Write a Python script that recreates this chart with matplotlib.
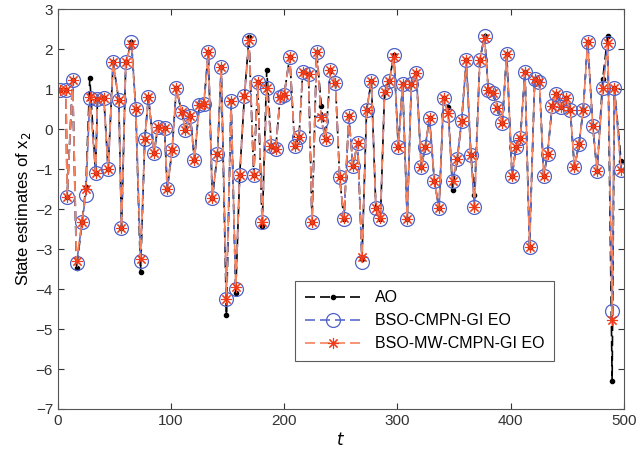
import matplotlib
matplotlib.use("Agg")
import matplotlib.pyplot as plt

plt.rcParams['font.family'] = ['Liberation Sans', 'DejaVu Sans']

# time instants of the plotted samples
t = [1.8, 7.1, 8.2, 13.0, 16.5, 21.4, 24.7, 28.2, 33.3, 35.0,
     40.6, 44.4, 48.8, 53.8, 56.2, 60.0, 65.0, 68.8, 73.0, 76.8,
     80.0, 85.0, 88.3, 94.2, 96.6, 100.9, 104.6, 109.4, 112.7, 117.0,
     120.6, 124.9, 128.9, 132.9, 136.4, 141.0, 144.3, 148.9, 153.0, 157.1,
     160.6, 164.8, 168.8, 173.0, 176.5, 180.5, 184.5, 188.6, 192.4, 196.4,
     199.9, 204.8, 209.2, 213.0, 216.3, 221.4, 224.5, 228.6, 232.7, 236.5,
     240.8, 245.2, 248.9, 252.7, 257.0, 260.6, 264.8, 268.6, 272.7, 276.9,
     280.9, 284.9, 288.6, 292.8, 296.8, 300.7, 304.5, 308.6, 312.2, 316.6,
     321.0, 324.5, 328.3, 332.5, 336.7, 340.7, 344.8, 348.6, 352.8, 356.6,
     360.8, 364.8, 368.0, 372.7, 376.9, 380.2, 384.5, 388.3, 392.5, 396.5,
     401.2, 404.7, 408.5, 412.6, 416.6, 421.2, 425.4, 429.1, 432.5, 436.6,
     440.4, 444.6, 448.6, 452.6, 456.3, 460.3, 464.0, 468.0, 472.5, 476.3,
     481.3, 485.7, 489.6, 491.6, 497.5]

# actual output AO
ao = [0.98, 0.98, -1.69, 1.22, -3.48, -2.32, -1.45, 1.28, -1.10, 0.76,
      0.78, -1.00, 1.67, 0.72, -2.48, 1.67, 2.18, 0.50, -3.58, -0.24,
      0.80, -0.59, 0.05, 0.02, -1.50, -0.53, 1.02, 0.42, -0.02, 0.33,
      -0.77, 0.61, 0.63, 1.93, -1.73, -0.62, 1.55, -4.65, 0.71, -4.10,
      -1.14, 0.83, 2.30, -1.16, 1.18, -2.42, 1.48, -0.43, -0.49, 0.81,
      0.86, 1.81, -0.43, -0.20, 1.44, 1.39, -2.32, 1.94, 0.58, -0.25,
      1.47, 1.15, -1.21, -2.26, 0.33, -0.92, -0.34, -3.25, 0.48, 1.20,
      -1.98, -2.25, 0.94, 1.21, 1.86, -0.45, 1.13, -2.24, 1.13, 1.41,
      -0.96, -0.44, 0.28, -1.29, -1.98, 0.78, 0.56, -1.52, -0.74, 0.20,
      1.73, -0.65, -1.65, 1.73, 2.33, 0.99, 0.91, 0.53, 0.16, 1.88,
      -1.18, -0.44, -0.22, 1.44, -2.94, 1.25, 1.19, -1.18, -0.63, 0.58,
      0.88, 0.56, 0.78, 0.47, -0.96, -0.38, 0.47, 2.19, 0.07, -1.06,
      1.25, 2.34, -6.30, 1.03, -0.80]

# BSO-CMPN-GI estimated output
eo_cmpn = [0.98, 0.98, -1.69, 1.22, -3.36, -2.32, -1.64, 0.78, -1.10, 0.76,
           0.78, -1.00, 1.67, 0.72, -2.48, 1.67, 2.18, 0.50, -3.29, -0.24,
           0.80, -0.59, 0.05, 0.02, -1.50, -0.53, 1.02, 0.42, -0.02, 0.33,
           -0.77, 0.61, 0.63, 1.93, -1.73, -0.62, 1.55, -4.25, 0.71, -4.00,
           -1.14, 0.83, 2.23, -1.16, 1.18, -2.32, 1.02, -0.43, -0.49, 0.81,
           0.86, 1.81, -0.43, -0.20, 1.44, 1.39, -2.32, 1.94, 0.21, -0.25,
           1.47, 1.15, -1.21, -2.26, 0.33, -0.92, -0.34, -3.32, 0.48, 1.20,
           -1.98, -2.25, 0.94, 1.21, 1.86, -0.45, 1.13, -2.24, 1.13, 1.41,
           -0.96, -0.44, 0.28, -1.29, -1.98, 0.78, 0.35, -1.31, -0.74, 0.20,
           1.73, -0.65, -1.95, 1.73, 2.33, 0.99, 0.91, 0.53, 0.16, 1.88,
           -1.18, -0.44, -0.22, 1.44, -2.94, 1.25, 1.19, -1.18, -0.63, 0.58,
           0.88, 0.56, 0.78, 0.47, -0.96, -0.38, 0.47, 2.19, 0.07, -1.06,
           1.03, 2.15, -4.56, 1.03, -1.03]

# BSO-MW-CMPN-GI estimated output
eo_mw = [0.98, 0.98, -1.69, 1.22, -3.30, -2.32, -1.50, 0.80, -1.10, 0.76,
         0.78, -1.00, 1.67, 0.72, -2.48, 1.67, 2.12, 0.50, -3.25, -0.24,
         0.80, -0.59, 0.05, 0.02, -1.50, -0.53, 1.02, 0.42, -0.02, 0.33,
         -0.77, 0.61, 0.63, 1.93, -1.73, -0.62, 1.55, -4.25, 0.71, -3.95,
         -1.14, 0.83, 2.23, -1.16, 1.18, -2.32, 1.02, -0.43, -0.49, 0.81,
         0.86, 1.81, -0.43, -0.20, 1.44, 1.39, -2.32, 1.94, 0.30, -0.25,
         1.47, 1.15, -1.21, -2.22, 0.33, -0.92, -0.34, -3.20, 0.48, 1.20,
         -1.98, -2.22, 0.94, 1.21, 1.80, -0.45, 1.13, -2.24, 1.13, 1.41,
         -0.96, -0.44, 0.28, -1.29, -1.98, 0.78, 0.40, -1.31, -0.74, 0.20,
         1.73, -0.65, -1.95, 1.73, 2.28, 0.99, 0.91, 0.53, 0.16, 1.88,
         -1.18, -0.44, -0.22, 1.44, -2.94, 1.25, 1.19, -1.18, -0.63, 0.58,
         0.88, 0.56, 0.78, 0.47, -0.96, -0.38, 0.47, 2.19, 0.07, -1.06,
         1.03, 2.15, -4.78, 1.03, -1.03]

legend_labels = ['AO', 'BSO-CMPN-GI EO', 'BSO-MW-CMPN-GI EO']

fig = plt.figure(figsize=(6.36, 4.58), dpi=100)
ax = fig.add_axes([0.091, 0.107, 0.890, 0.873])

ax.plot(t, ao, color='black', linestyle='--', dashes=(6, 3), linewidth=1.2,
        marker='o', markersize=3.0, label=legend_labels[0])
ax.plot(t, eo_cmpn, color='#5a6ccc', linestyle='--', dashes=(6, 3), linewidth=1.2,
        marker='o', markersize=10, markerfacecolor='none', markeredgecolor='#4f63c8',
        markeredgewidth=0.9, label=legend_labels[1])
ax.plot(t, eo_mw, color='#f5845e', linestyle='--', dashes=(6, 3), linewidth=1.2,
        marker=(8, 2, 0), markersize=8, markeredgecolor='#f03a18',
        markeredgewidth=0.8, label=legend_labels[2])

ax.set_xlim(0, 500)
ax.set_ylim(-7, 3)
ax.set_xticks(range(0, 501, 100))
ax.set_yticks(range(-7, 4))
ax.tick_params(direction='in', top=True, right=True, labelsize=11,
               colors='#333333', length=4)
for s in ax.spines.values():
    s.set_color('#555555')

ax.set_xlabel('$t$', fontsize=12, labelpad=2)
ax.set_ylabel('State estimates of x$_2$', fontsize=12, labelpad=2)

leg = ax.legend(loc='lower left', bbox_to_anchor=(0.405, 0.10), fontsize=11.5,
                handlelength=3.6, frameon=True, fancybox=False, borderpad=0.6,
                labelspacing=0.5)
leg.get_frame().set_edgecolor('#333333')
leg.get_frame().set_linewidth(0.8)

fig.savefig('out.png', dpi=100)
